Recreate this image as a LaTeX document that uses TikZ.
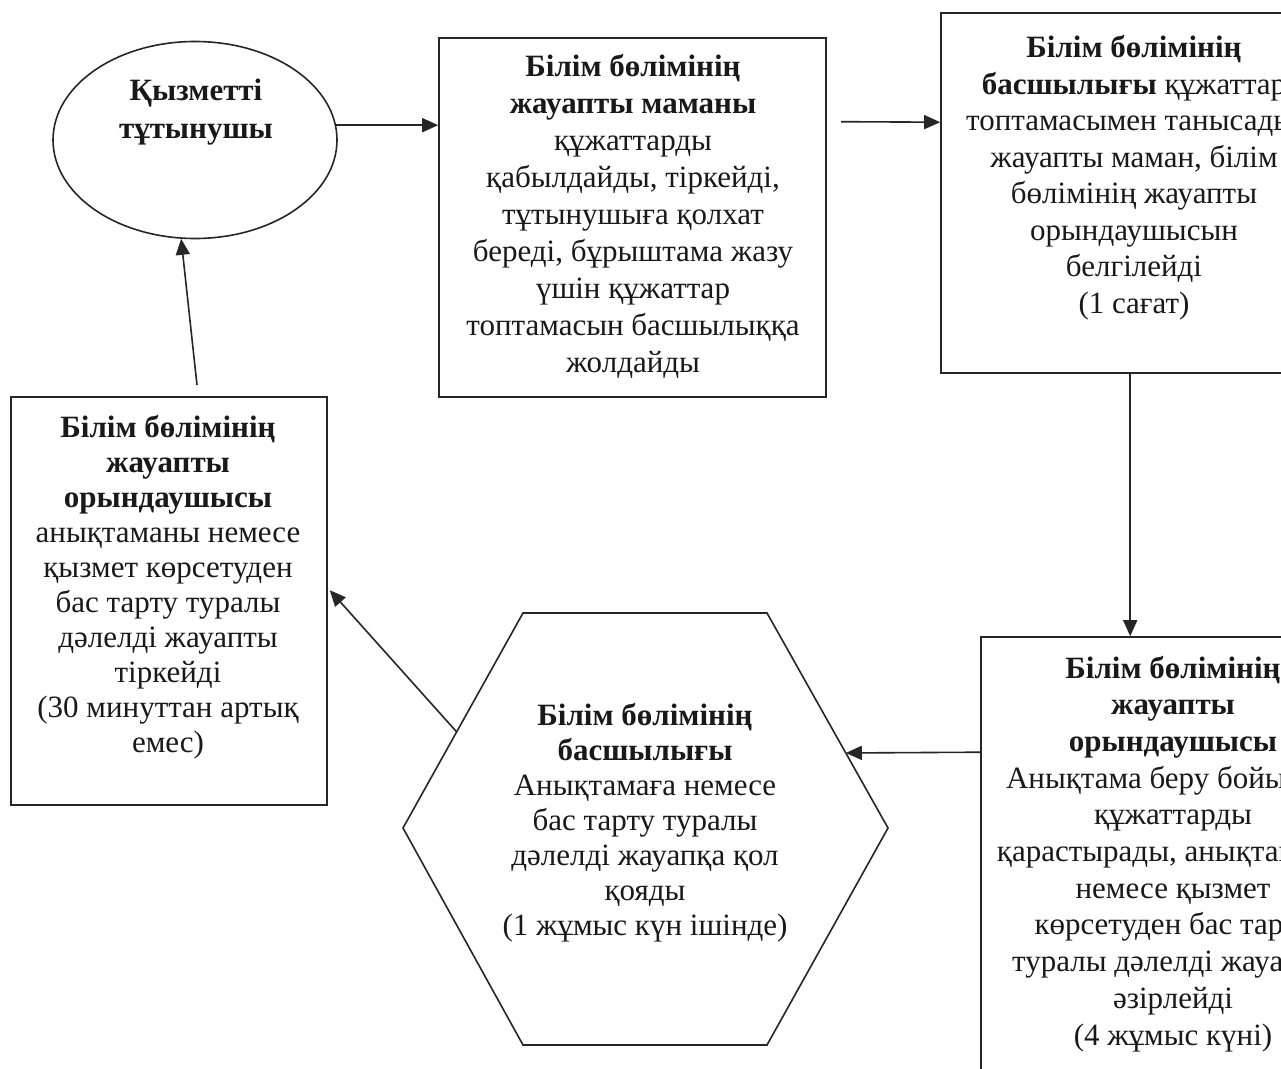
\documentclass[tikz,border=0pt]{standalone}
\usepackage{fontspec}
\setmainfont{Liberation Serif}
\usetikzlibrary{arrows.meta,calc,shapes.geometric}
\begin{document}
\begin{tikzpicture}[x=1pt,y=-1pt,
  shapeline/.style={draw=black!85, line width=1.6pt},
  boxnode/.style={shapeline, rectangle, inner sep=0pt},
  txt/.style={align=center, anchor=base, inner sep=0pt, text=black!90, font=\fontsize{31}{#1}\selectfont},
  arr/.style={draw=black!85, line width=1.6pt, -{Triangle[length=16pt,width=14pt]}},
]
\useasboundingbox (0,0) rectangle (1281,1068);
\clip (0,0) rectangle (1281,1068);
\fill[white] (0,0) rectangle (1281,1068);

% shapes
\node[shapeline, ellipse, inner sep=0pt, minimum width=284pt, minimum height=197pt] (ell) at (195,140) {};
\node[boxnode, minimum width=387pt, minimum height=359pt] (box1) at (632.5,217.5) {};
\node[boxnode, minimum width=388pt, minimum height=360pt] (box2) at (1135,193) {};
\node[boxnode, minimum width=388pt, minimum height=480pt] (box3) at (1175,877) {};
\node[boxnode, minimum width=316pt, minimum height=408pt] (lbox) at (169,601) {};
\coordinate (hTL) at (523,613);
\coordinate (hTR) at (767,613);
\coordinate (hR) at (888,828);
\coordinate (hBR) at (767,1045);
\coordinate (hBL) at (523,1045);
\coordinate (hL) at (403,828);
\draw[shapeline, line join=miter] (hTL) -- (hTR) -- (hR) -- (hBR) -- (hBL) -- (hL) -- cycle;

% texts (anchor = baseline of the last line)
\node[txt=38] (t0) at (196,138) {\textbf{Қызметті}\\\textbf{тұтынушы}};
\node[txt=36.9] (t1) at (633,372) {\textbf{Білім бөлімінің}\\\textbf{жауапты маманы}\\құжаттарды\\қабылдайды, тіркейді,\\тұтынушыға қолхат\\береді, бұрыштама жазу\\үшін құжаттар\\топтамасын басшылыққа\\жолдайды};
\node[txt=36.5] (t2) at (1134,313) {\textbf{Білім бөлімінің}\\\textbf{басшылығы} құжаттар\\топтамасымен танысады,\\жауапты маман, білім\\бөлімінің жауапты\\орындаушысын\\белгілейді\\(1 сағат)};
\node[txt=36.7] (t3) at (1173,1045) {\textbf{Білім бөлімінің}\\\textbf{жауапты}\\\textbf{орындаушысы}\\Анықтама беру бойынша\\құжаттарды\\қарастырады, анықтаманы\\немесе қызмет\\көрсетуден бас тарту\\туралы дәлелді жауапты\\әзірлейді\\(4 жұмыс күні)};
\node[txt=35] (t4) at (645,935) {\textbf{Білім бөлімінің}\\\textbf{басшылығы}\\Анықтамаға немесе\\бас тарту туралы\\дәлелді  жауапқа қол\\қояды\\(1 жұмыс күн ішінде)};
\node[txt=34.9] (t5) at (168,752) {\textbf{Білім бөлімінің}\\\textbf{жауапты}\\\textbf{орындаушысы}\\анықтаманы немесе\\қызмет көрсетуден\\бас тарту туралы\\дәлелді жауапты\\тіркейді\\(30 минуттан артық\\емес)};

% connectors
\draw[arr] (ell.6) -- (ell.6 -| box1.west);
\coordinate (g) at (841,121.7);
\draw[arr] (g) -- ($(box2.north west)+(0,110)$);
\draw[arr] ($(box2.south west)+(190,0)$) -- ($(box3.north west)+(150,0)$);
\draw[arr] ($(box3.north west)+(0,116)$) -- ($(hTR)!0.651!(hR)$);
\draw[arr] ($(hL)!0.447!(hTL)$) -- ($(lbox.north east)+(2,194)$);
\coordinate (u) at (197,385);
\draw[arr] (u) -- (ell.262);
\end{tikzpicture}
\end{document}
